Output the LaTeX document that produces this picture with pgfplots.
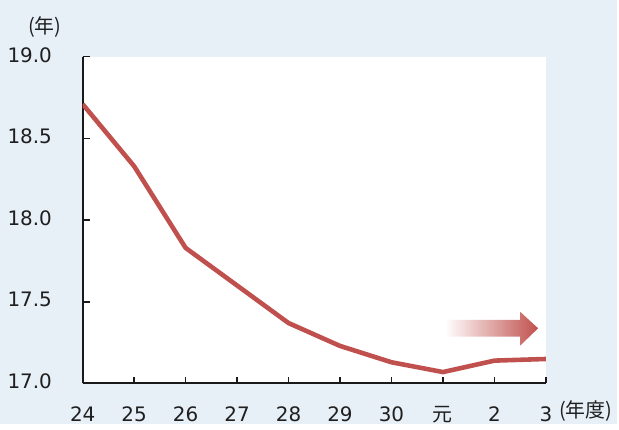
\documentclass[border=0pt]{standalone}
\usepackage{pgfplots}
\pgfplotsset{compat=1.18}
\usepackage{fontspec}
\setmainfont{DejaVu Sans}
\newfontfamily\jp{Noto Sans CJK JP}
\definecolor{bg}{HTML}{E7EFF7}
\definecolor{lr}{HTML}{C0504D}
\begin{document}
\fontsize{20bp}{23bp}\selectfont
\begin{tikzpicture}
\fill[bg] (0,0) rectangle (619bp,426bp);
\begin{axis}[
  at={(83bp,41bp)}, anchor=south west,
  scale only axis, width=465bp, height=328bp,
  xmin=0, xmax=9, ymin=17, ymax=19,
  axis background/.style={fill=white},
  axis x line=bottom, axis y line=left,
  axis line style={-, line width=2bp, black!90},
  tick align=inside, xtick pos=bottom, ytick pos=left,
  major tick length=7bp,
  tick style={line width=1.4bp, black!90},
  xtick={0,...,9},
  xticklabels={24,25,26,27,28,29,30,{\jp 元},2,3},
  ytick={17,17.5,18,18.5,19},
  /pgf/number format/assume math mode=true,
  yticklabel style={/pgf/number format/fixed, /pgf/number format/fixed zerofill, /pgf/number format/precision=1},
  tick label style={font=\fontsize{20bp}{23bp}\selectfont, text=black!88},
  yticklabel style={anchor=east, xshift=-24bp, yshift=2bp},
  xticklabel style={anchor=north, yshift=-16bp},
  clip mode=individual,
]
\addplot[draw=lr, line width=4.6bp, line join=round] coordinates {
(0,18.71) (1,18.33) (2,17.83) (3,17.60) (4,17.37) (5,17.23) (6,17.13) (7,17.07) (8,17.14) (9,17.15)};
\coordinate (s0) at (axis cs:7.04,17.287);
\coordinate (s1) at (axis cs:8.50,17.287);
\coordinate (h0) at (axis cs:8.50,17.232);
\coordinate (tp) at (axis cs:8.85,17.338);
\coordinate (h1) at (axis cs:8.50,17.439);
\coordinate (s2) at (axis cs:8.50,17.389);
\coordinate (s3) at (axis cs:7.04,17.389);
\end{axis}
\shade[left color=white, right color=lr] (s0) -- (s1) -- (h0) -- (tp) -- (h1) -- (s2) -- (s3) -- cycle;
\node[font=\jp\fontsize{20bp}{23bp}\selectfont, text=black!88] at (45bp,399bp) {(年)};
\node[font=\jp\fontsize{20bp}{23bp}\selectfont, text=black!88] at (588bp,13bp) {(年度)};
\end{tikzpicture}
\end{document}
